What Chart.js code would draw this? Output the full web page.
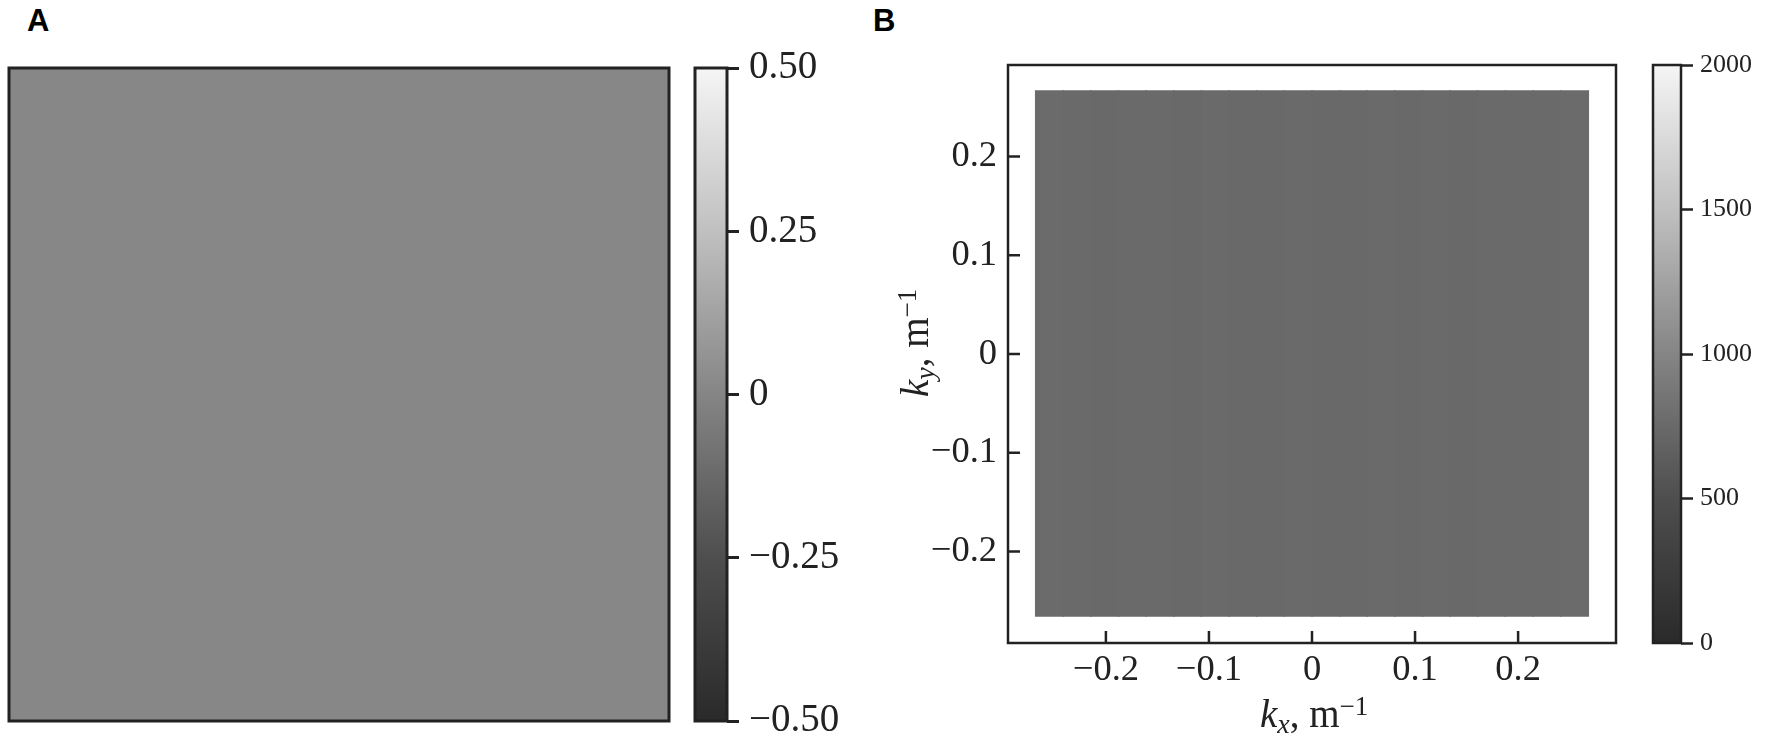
<!DOCTYPE html>
<html>
<head>
<meta charset="utf-8">
<title>Field and spectrum</title>
<script src="https://cdn.jsdelivr.net/npm/chart.js@4/dist/chart.umd.min.js"></script>
<style>
    html, body { margin: 0; padding: 0; background: #fff; }
    body { position: relative; width: 1766px; height: 743px; overflow: hidden; }
    canvas { position: absolute; }
    .panel-letter { position: absolute; top: 3px; font: bold 31px "Liberation Sans", Arial, sans-serif; color: #000; }
</style>
</head>
<body>
<div class="panel-letter" style="left:27px">A</div>
<div class="panel-letter" style="left:873px">B</div>
<canvas id="field-chart" style="left:4px;top:63px"></canvas>
<canvas id="field-bar" style="left:690px;top:40px"></canvas>
<canvas id="spectrum-chart" style="left:880px;top:50px"></canvas>
<canvas id="spectrum-bar" style="left:1648px;top:40px"></canvas>
<script>
// --- Grey scale shared by both colour bars ---
const cmapFractions = [0, 0.25, 0.5, 0.75, 1];
const cmapGreys = [42, 78, 133, 192, 245];

// --- Panel A: coarse estimate of the field, rows from bottom to top ---
const fieldColumns = ['c1', 'c2', 'c3', 'c4', 'c5', 'c6', 'c7', 'c8', 'c9', 'c10'];
const fieldRows = [
    [0.010, 0.009, 0.009, 0.008, 0.008, 0.009, 0.008, 0.008, 0.009, 0.010],
    [0.009, 0.008, 0.008, 0.008, 0.008, 0.007, 0.008, 0.008, 0.008, 0.009],
    [0.008, 0.008, 0.007, 0.007, 0.007, 0.008, 0.007, 0.008, 0.008, 0.008],
    [0.008, 0.007, 0.007, 0.007, 0.007, 0.007, 0.008, 0.007, 0.008, 0.009],
    [0.008, 0.007, 0.007, 0.007, 0.007, 0.007, 0.007, 0.008, 0.008, 0.008],
    [0.009, 0.008, 0.007, 0.007, 0.008, 0.007, 0.007, 0.007, 0.008, 0.009],
    [0.008, 0.008, 0.008, 0.008, 0.007, 0.007, 0.008, 0.008, 0.008, 0.008],
    [0.009, 0.008, 0.008, 0.008, 0.008, 0.007, 0.007, 0.008, 0.008, 0.009],
    [0.010, 0.009, 0.008, 0.008, 0.008, 0.008, 0.008, 0.008, 0.009, 0.010],
    [0.010, 0.010, 0.009, 0.009, 0.008, 0.009, 0.008, 0.009, 0.009, 0.010]
];
const fieldTicks = [-0.5, -0.25, 0, 0.25, 0.5];
const fieldTickLabels = ['\u22120.50', '\u22120.25', '0', '0.25', '0.50'];

// --- Panel B: spectrum level per column, empty slots keep the margin of the frame ---
const spectrumColumns = ['m1', 's1', 's2', 's3', 's4', 's5', 's6', 's7', 's8', 's9', 's10',
    's11', 's12', 's13', 's14', 's15', 's16', 's17', 's18', 's19', 's20', 'm2'];
const spectrumLevels = [null, 760, 752, 748, 755, 750, 745, 752, 748, 744, 750,
    746, 742, 750, 747, 752, 748, 754, 750, 755, 760, null];
const spectrumTop = 0.267;
const spectrumBottom = -0.266;
const kxRange = [-0.295, 0.295];
const kyRange = [-0.2926, 0.2926];
const kTicks = [-0.2, -0.1, 0, 0.1, 0.2];
const kTickLabels = ['\u22120.2', '\u22120.1', '0', '0.1', '0.2'];
const spectrumBarTicks = [0, 500, 1000, 1500, 2000];

const INK = '#222222';
const SERIF = '"Liberation Serif", "Times New Roman", serif';

function greyFor(fraction) {
    for (let i = 1; i < cmapFractions.length; i++) {
        if (fraction <= cmapFractions[i]) {
            const t = (fraction - cmapFractions[i - 1]) / (cmapFractions[i] - cmapFractions[i - 1]);
            const g = Math.round(cmapGreys[i - 1] + t * (cmapGreys[i] - cmapGreys[i - 1]));
            return `rgb(${g},${g},${g})`;
        }
    }
    return `rgb(${cmapGreys[4]},${cmapGreys[4]},${cmapGreys[4]})`;
}

// Keep the plot box where it is, tick labels may hang over its ends
function fixAxis(scale, size) {
    if (scale.isHorizontal()) scale.height = size;
    else scale.width = size;
    scale.paddingTop = 0;
    scale.paddingBottom = 0;
    scale.paddingLeft = 0;
    scale.paddingRight = 0;
}

// Frame round the plot area, plus inward ticks and the axis titles on panel B
const framePlugin = {
    id: 'frame',
    afterDraw(chart, args, opts) {
        const { ctx, chartArea: a, scales } = chart;
        ctx.save();
        ctx.strokeStyle = INK;
        ctx.lineWidth = opts.lineWidth;
        ctx.strokeRect(a.left, a.top, a.right - a.left, a.bottom - a.top);
        if (opts.inwardTicks) {
            ctx.beginPath();
            scales.kx.ticks.forEach(t => {
                const px = scales.kx.getPixelForValue(t.value);
                ctx.moveTo(px, a.bottom);
                ctx.lineTo(px, a.bottom - 12);
            });
            scales.y.ticks.forEach(t => {
                const py = scales.y.getPixelForValue(t.value);
                ctx.moveTo(a.left, py);
                ctx.lineTo(a.left + 12, py);
            });
            ctx.stroke();
            drawTitle(ctx, 'x', a.left + 252, a.bottom + 84, 0);
            drawTitle(ctx, 'y', a.left - 80, a.top + 332, -Math.PI / 2);
        }
        ctx.restore();
    }
};

function drawTitle(ctx, sub, x, y, rotation) {
    const pieces = [
        { text: 'k', font: `italic 39px ${SERIF}`, dy: 0 },
        { text: sub, font: `italic 28px ${SERIF}`, dy: 6 },
        { text: ', m', font: `39px ${SERIF}`, dy: 0 },
        { text: '\u22121', font: `27px ${SERIF}`, dy: -12 }
    ];
    ctx.save();
    ctx.translate(x, y);
    ctx.rotate(rotation);
    ctx.fillStyle = INK;
    ctx.textAlign = 'left';
    ctx.textBaseline = 'alphabetic';
    let cursor = 0;
    pieces.forEach(p => {
        ctx.font = p.font;
        ctx.fillText(p.text, cursor, p.dy);
        cursor += ctx.measureText(p.text).width;
    });
    ctx.restore();
}

function sizeCanvas(id, w, h) {
    const el = document.getElementById(id);
    el.width = w;
    el.height = h;
    return el;
}

function baseOptions(padding, frame) {
    return {
        responsive: false,
        animation: false,
        events: [],
        layout: { padding, autoPadding: false },
        plugins: { legend: { display: false }, tooltip: { enabled: false }, frame }
    };
}

// --- Panel A heat map: one floating bar dataset per row ---
const fieldDatasets = fieldRows.map((row, r) => ({
    data: row.map(() => [r, r + 1.02]),
    backgroundColor: row.map(v => greyFor(v + 0.5)),
    borderWidth: 0,
    grouped: false,
    barPercentage: 1.03,
    categoryPercentage: 1
}));
new Chart(sizeCanvas('field-chart', 670, 663), {
    type: 'bar',
    data: { labels: fieldColumns, datasets: fieldDatasets },
    options: {
        ...baseOptions({ left: 5, right: 5, top: 5, bottom: 5 }, { lineWidth: 3 }),
        scales: {
            x: { type: 'category', display: false },
            y: { type: 'linear', display: false, min: 0, max: fieldRows.length }
        }
    },
    plugins: [framePlugin]
});

// --- Colour bars: one floating bar with a gradient taken from the value scale ---
function colourBar(id, w, h, padding, axisWidth, range, ticks, labels, fontSize, labelPad, frameWidth) {
    new Chart(sizeCanvas(id, w, h), {
        type: 'bar',
        data: {
            labels: ['bar'],
            datasets: [{
                data: [range],
                borderWidth: 0,
                barPercentage: 1,
                categoryPercentage: 1,
                backgroundColor(c) {
                    const { chart } = c;
                    if (!chart.chartArea) return '#888888';
                    const s = chart.scales.y;
                    const g = chart.ctx.createLinearGradient(0, s.getPixelForValue(range[0]), 0, s.getPixelForValue(range[1]));
                    cmapFractions.forEach((f, i) => g.addColorStop(f, greyFor(f)));
                    return g;
                }
            }]
        },
        options: {
            ...baseOptions(padding, { lineWidth: frameWidth }),
            scales: {
                x: { type: 'category', display: false },
                y: {
                    type: 'linear',
                    position: 'right',
                    min: range[0],
                    max: range[1],
                    afterFit(scale) { fixAxis(scale, axisWidth); },
                    afterBuildTicks(scale) { scale.ticks = ticks.map(value => ({ value })); },
                    border: { display: false },
                    grid: { drawOnChartArea: false, tickLength: 12, tickColor: INK, tickWidth: frameWidth },
                    ticks: {
                        padding: labelPad,
                        color: INK,
                        font: { family: SERIF, size: fontSize },
                        callback(value) { return labels[ticks.indexOf(value)]; }
                    }
                }
            }
        },
        plugins: [framePlugin]
    });
}

colourBar('field-bar', 170, 703, { left: 5, right: 0, top: 28, bottom: 22 }, 133,
    [-0.5, 0.5], fieldTicks, fieldTickLabels, 39, 10, 3);
colourBar('spectrum-bar', 118, 703, { left: 5, right: 0, top: 25, bottom: 100 }, 85,
    [0, 2000], spectrumBarTicks, spectrumBarTicks.map(String), 26, 7, 2.5);

// --- Panel B: spectrum with linear k axes ---
new Chart(sizeCanvas('spectrum-chart', 750, 693), {
    type: 'bar',
    data: {
        labels: spectrumColumns,
        datasets: [{
            xAxisID: 'x',
            data: spectrumLevels.map(v => (v === null ? null : [spectrumBottom, spectrumTop])),
            backgroundColor: spectrumLevels.map(v => greyFor((v || 0) / 2000)),
            borderWidth: 0,
            barPercentage: 1.05,
            categoryPercentage: 1
        }]
    },
    options: {
        ...baseOptions({ left: 0, right: 14, top: 15, bottom: 0 }, { lineWidth: 2.5, inwardTicks: true }),
        scales: {
            x: { type: 'category', display: false },
            kx: {
                type: 'linear',
                position: 'bottom',
                offset: false,
                min: kxRange[0],
                max: kxRange[1],
                afterFit(scale) { fixAxis(scale, 100); },
                afterBuildTicks(scale) { scale.ticks = kTicks.map(value => ({ value })); },
                border: { display: false },
                grid: { display: false, drawTicks: false, offset: false },
                ticks: {
                    padding: 6,
                    maxRotation: 0,
                    color: INK,
                    font: { family: SERIF, size: 36.5 },
                    callback(value) { return kTickLabels[kTicks.indexOf(value)]; }
                }
            },
            y: {
                type: 'linear',
                position: 'left',
                min: kyRange[0],
                max: kyRange[1],
                afterFit(scale) { fixAxis(scale, 128); },
                afterBuildTicks(scale) { scale.ticks = kTicks.map(value => ({ value })); },
                border: { display: false },
                grid: { display: false, drawTicks: false },
                ticks: {
                    padding: 11,
                    color: INK,
                    font: { family: SERIF, size: 36.5 },
                    callback(value) { return kTickLabels[kTicks.indexOf(value)]; }
                }
            }
        }
    },
    plugins: [framePlugin]
});
</script>
</body>
</html>
